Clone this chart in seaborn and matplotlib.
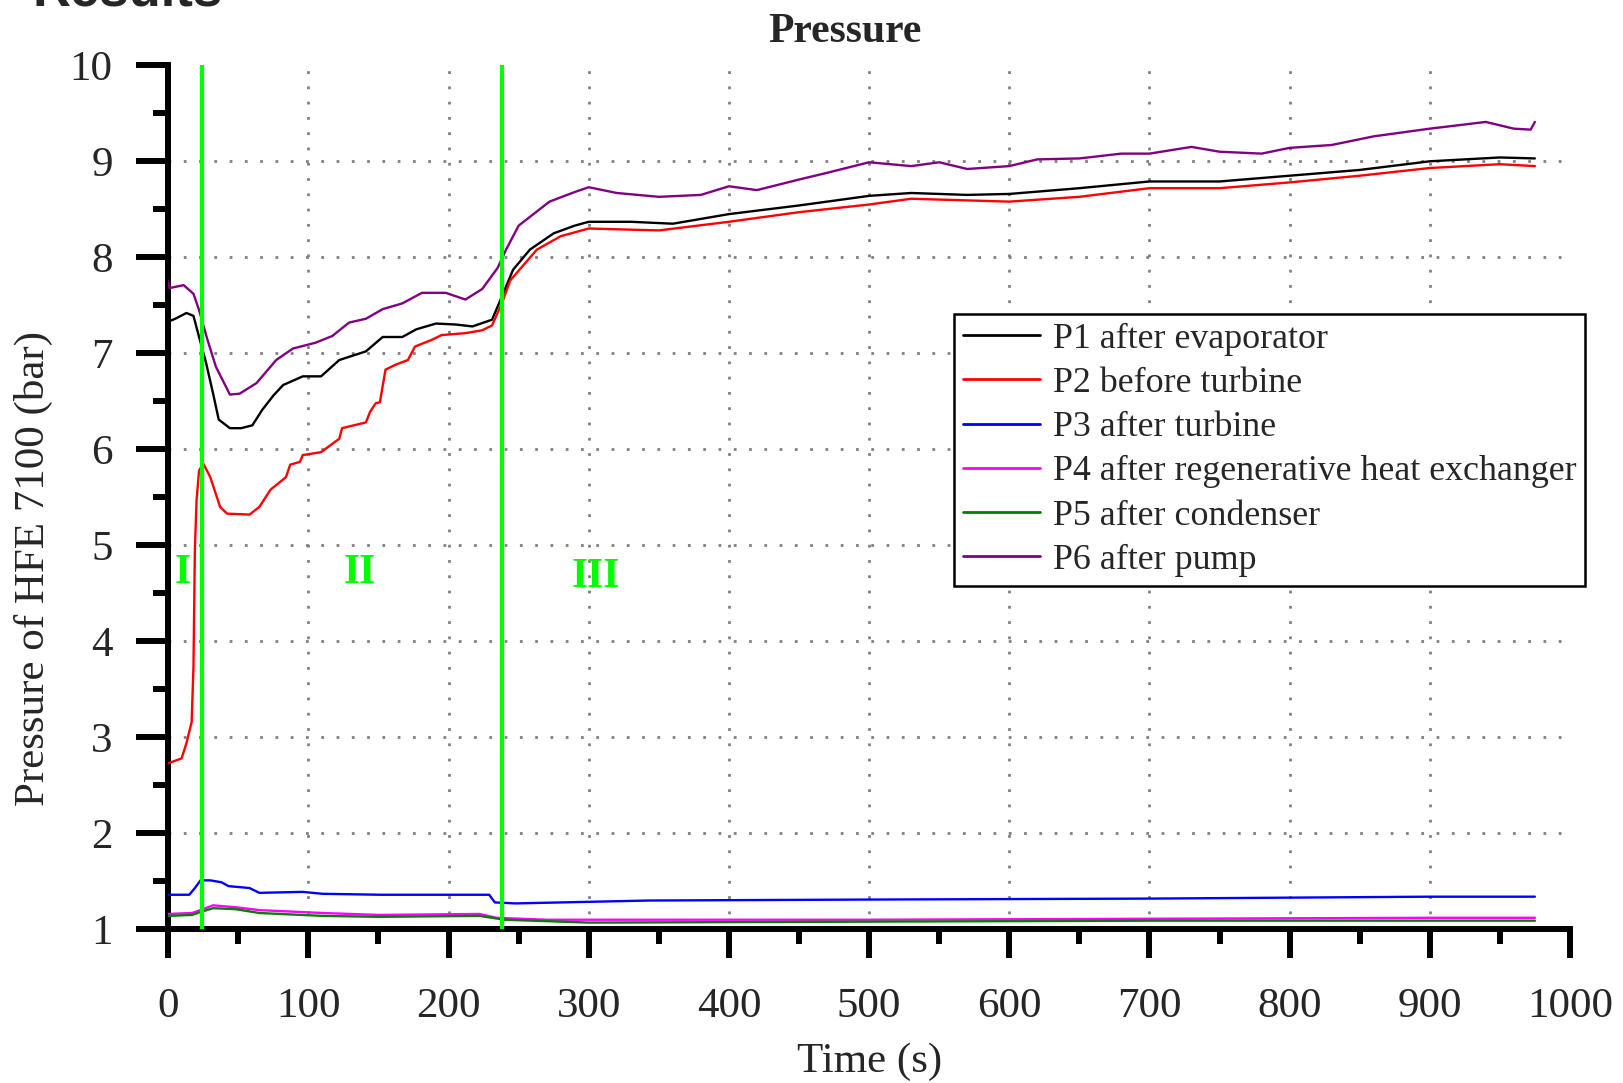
import numpy as np
import pandas as pd
from matplotlib import pyplot as plt
from matplotlib.ticker import MultipleLocator
import seaborn as sns

###############################################################################
# DATA
###############################################################################
# P1 after evaporator
t1 = [0, 5, 13, 18, 22, 27, 32, 36, 44, 52, 60, 67, 75, 82, 96, 109, 122, 141,
      153, 167, 177, 191, 205, 217, 231, 238, 246, 258, 275, 290, 300, 330, 360,
      400, 450, 500, 530, 570, 600, 650, 700, 750, 800, 850, 900, 950, 975]
p1 = [7.33, 7.36, 7.42, 7.39, 7.17, 6.90, 6.58, 6.31, 6.22, 6.22, 6.25, 6.41,
      6.56, 6.67, 6.76, 6.76, 6.93, 7.02, 7.17, 7.17, 7.25, 7.31, 7.30, 7.28,
      7.35, 7.59, 7.87, 8.08, 8.25, 8.33, 8.37, 8.37, 8.35, 8.45, 8.54, 8.64,
      8.67, 8.65, 8.66, 8.72, 8.79, 8.79, 8.85, 8.91, 9.00, 9.04, 9.03]

# P2 before turbine
t2 = [0, 9.5, 13, 16.7, 18, 19, 20.2, 22, 25, 30, 37, 42, 58, 65, 73, 84, 87,
      94, 96, 109, 122, 124, 141, 144, 148, 151, 155, 162, 171, 176, 188, 195,
      212, 224, 231, 238, 244, 263, 280, 300, 350, 400, 450, 500, 530, 600, 650,
      700, 750, 800, 850, 900, 950, 975]
p2 = [2.73, 2.78, 2.94, 3.16, 3.74, 4.95, 5.47, 5.78, 5.85, 5.71, 5.40, 5.33,
      5.32, 5.40, 5.58, 5.71, 5.84, 5.87, 5.94, 5.97, 6.11, 6.22, 6.28, 6.39,
      6.48, 6.49, 6.83, 6.88, 6.93, 7.07, 7.14, 7.19, 7.21, 7.24, 7.29, 7.52,
      7.76, 8.08, 8.22, 8.30, 8.28, 8.37, 8.47, 8.55, 8.61, 8.58, 8.63, 8.72,
      8.72, 8.78, 8.85, 8.93, 8.97, 8.95]

# P3 after turbine
t3 = [0, 15, 19, 23, 30, 38, 43, 58, 65, 96, 110, 152, 229, 233, 248, 343, 500,
      700, 900, 975]
p3 = [1.36, 1.36, 1.43, 1.51, 1.51, 1.49, 1.45, 1.43, 1.38, 1.39, 1.37, 1.36,
      1.36, 1.28, 1.27, 1.30, 1.31, 1.32, 1.34, 1.34]

# P4 after regenerative heat exchanger
t4 = [0, 17, 23, 32, 48, 65, 110, 150, 222, 234, 270, 343, 500, 700, 900, 975]
p4 = [1.16, 1.17, 1.20, 1.25, 1.23, 1.20, 1.17, 1.15, 1.16, 1.12, 1.10, 1.10,
      1.10, 1.11, 1.12, 1.12]

# P5 after condenser
t5 = [0, 17, 23, 32, 48, 65, 110, 150, 222, 240, 300, 500, 700, 900, 975]
p5 = [1.14, 1.15, 1.18, 1.22, 1.21, 1.17, 1.14, 1.13, 1.14, 1.10, 1.07, 1.08,
      1.09, 1.09, 1.09]

# P6 after pump
t6 = [0, 1, 11, 18, 22, 28, 34, 44, 51, 63, 77, 89, 105, 117, 129, 141, 153,
      167, 181, 198, 212, 224, 235, 241, 250, 272, 290, 300, 320, 350, 380, 400,
      420, 450, 470, 500, 530, 550, 570, 600, 620, 650, 680, 700, 730, 750, 780,
      800, 830, 860, 900, 940, 960, 972, 975]
p6 = [7.75, 7.68, 7.71, 7.62, 7.45, 7.14, 6.86, 6.57, 6.58, 6.69, 6.93, 7.05,
      7.11, 7.18, 7.32, 7.36, 7.46, 7.52, 7.63, 7.63, 7.56, 7.67, 7.89, 8.08,
      8.33, 8.58, 8.68, 8.73, 8.67, 8.63, 8.65, 8.74, 8.70, 8.81, 8.88, 8.99,
      8.95, 8.99, 8.92, 8.95, 9.02, 9.03, 9.08, 9.08, 9.15, 9.10, 9.08, 9.14,
      9.17, 9.26, 9.34, 9.41, 9.34, 9.33, 9.41]

labels = ["P1 after evaporator", "P2 before turbine", "P3 after turbine",
          "P4 after regenerative heat exchanger", "P5 after condenser",
          "P6 after pump"]
colors = ["#000000", "#ff0000", "#0000ff", "#ff00ff", "#008000", "#800080"]

# phase boundaries and phase names
phase_lines = [24, 238]
phase_names = ["I", "II", "III"]
phase_x = [10.3, 136.4, 305]
phase_y = [4.71, 4.71, 4.67]

###############################################################################
# PLOT
###############################################################################
sns.set_style("white")
plt.rcParams["font.family"] = ["Liberation Serif", "DejaVu Serif"]

fig, ax = plt.subplots(figsize=(16.24, 10.83), dpi=100)
fig.subplots_adjust(left=0.1036, right=0.9667, top=0.9397, bottom=0.1419)

series = [(t1, p1), (t2, p2), (t3, p3), (t4, p4), (t5, p5), (t6, p6)]
for (t, p), lab, col in zip(series, labels, colors):
    sns.lineplot(x=t, y=p, color=col, label=lab, linewidth=1.7, ax=ax,
                 estimator=None, sort=False, zorder=3)

for xv in phase_lines:
    ax.axvline(xv, ymin=0, ymax=1, color="#00ff00", linewidth=3, zorder=5)

for name, xx, yy in zip(phase_names, phase_x, phase_y):
    ax.text(xx, yy, name, color="#00ff00", fontsize=30, fontweight="bold",
            ha="center", va="center", zorder=6)

ax.set_xlim(0, 1000)
ax.set_ylim(1, 10)
ax.xaxis.set_major_locator(MultipleLocator(100))
ax.xaxis.set_minor_locator(MultipleLocator(50))
ax.yaxis.set_major_locator(MultipleLocator(1))
ax.yaxis.set_minor_locator(MultipleLocator(0.5))

ax.grid(True, which="major", color="#808080", linestyle=(0, (1, 4.5)),
        linewidth=2)

for side in ["top", "right"]:
    ax.spines[side].set_visible(False)
for side in ["left", "bottom"]:
    ax.spines[side].set_linewidth(4.3)
    ax.spines[side].set_color("black")

ax.tick_params(axis="both", which="both", bottom=True, left=True,
               direction="out", width=4.3, color="black")
ax.tick_params(axis="both", which="major", labelsize=31)
ax.tick_params(axis="y", which="major", length=23, pad=17)
ax.tick_params(axis="x", which="major", length=21, pad=21)
ax.tick_params(axis="both", which="minor", length=11)

ax.set_xlabel("Time (s)", fontsize=31, labelpad=12)
ax.set_ylabel("Pressure of HFE 7100 (bar)", fontsize=31)
ax.yaxis.set_label_coords(-0.082, 0.4175)
ax.set_title("Pressure", fontsize=30, fontweight="bold", x=0.483, pad=17)

leg = ax.legend(loc="upper left", bbox_to_anchor=(0.5606, 0.7125),
                fontsize=25.8, frameon=True, fancybox=False, framealpha=1,
                edgecolor="black", handlelength=2.15, handletextpad=0.35,
                labelspacing=0.31, borderpad=0.25, borderaxespad=0)
leg.get_frame().set_linewidth(1.8)
for line in leg.get_lines():
    line.set_linewidth(2)

# no grid line on the top and right limits
fig.canvas.draw()
for tick in ax.yaxis.get_major_ticks():
    if tick.get_loc() >= 10:
        tick.gridline.set_visible(False)
for tick in ax.xaxis.get_major_ticks():
    if tick.get_loc() >= 1000:
        tick.gridline.set_visible(False)

# heading of the slide, cut off at the top edge
fig.text(33 / 1624, 1 - 5 / 1083, "Results", fontsize=38, fontweight="bold",
         family=["Liberation Sans", "DejaVu Sans"], va="baseline", ha="left")

plt.savefig("out.png", dpi=100)
